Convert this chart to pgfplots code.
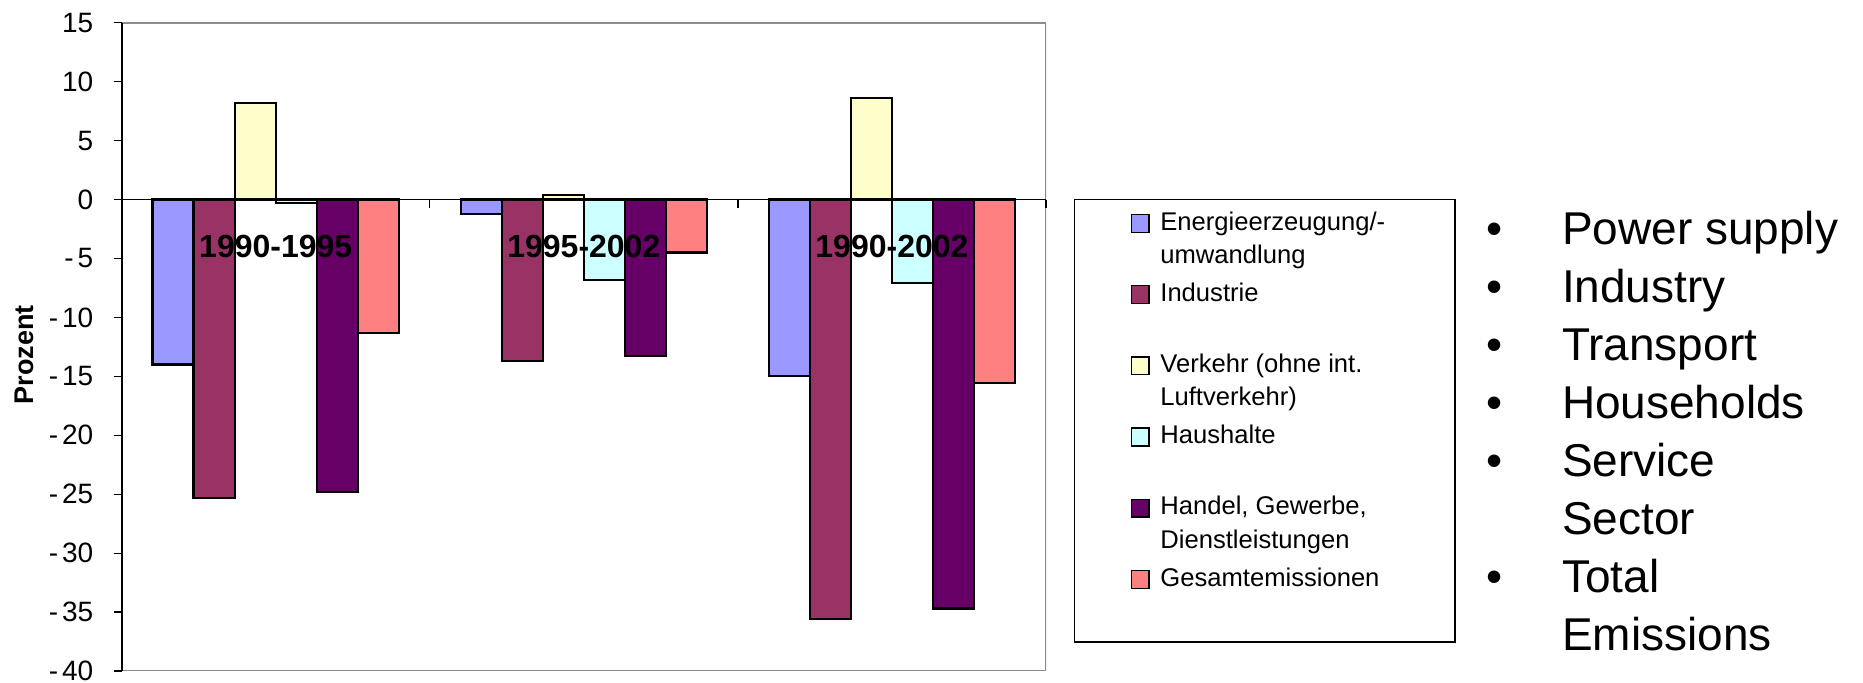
\documentclass[border=0pt]{standalone}
\usepackage{pgfplots}
\usepackage{pgfplotstable}
\pgfplotsset{compat=1.18}
\usepackage{fontspec}
\setmainfont{Liberation Sans}
\definecolor{cEnergie}{HTML}{9999FF}
\definecolor{cIndustrie}{HTML}{993366}
\definecolor{cVerkehr}{HTML}{FFFFCC}
\definecolor{cHaushalte}{HTML}{CCFFFF}
\definecolor{cHandel}{HTML}{660066}
\definecolor{cGesamt}{HTML}{FF8080}
\definecolor{framegray}{HTML}{8C8C8C}

\pgfplotstableread{
x    Energie Industrie Verkehr Haushalte Handel Gesamt
0.5  -14.0   -25.3     8.2     -0.3      -24.8  -11.3
1.5  -1.2    -13.7     0.4     -6.8      -13.3  -4.5
2.5  -15.0   -35.6     8.6     -7.1      -34.7  -15.6
}\datatable

\newcommand{\legtext}[2]{\parbox[t]{150pt}{\fontsize{12.8}{16.7}\selectfont\strut #1\\\strut #2}}

\begin{document}
\begin{tikzpicture}
\path[use as bounding box] (0,0) rectangle (931.5pt,-341.5pt);
\begin{axis}[
  at={(60.85pt,-11.35pt)}, anchor=north west,
  scale only axis, width=462.15pt, height=324.15pt,
  xmin=0, xmax=3, ymin=-40, ymax=15,
  axis on top,
  axis x line=middle, axis y line=left,
  x axis line style={-, black, line width=0.5pt},
  y axis line style={-, black, line width=0.9pt},
  hide obscured x ticks=false, hide obscured y ticks=false,
  tick align=outside, major tick length=4pt,
  tick style={black, line width=0.6pt},
  xtick={1,2,3}, xticklabels={,,},
  extra x ticks={0.5,1.5,2.5},
  extra x tick labels={1990-1995,1995-2002,1990-2002},
  extra x tick style={major tick length=0pt,
    tick label style={font=\fontsize{16}{18}\selectfont\bfseries, anchor=north, inner sep=0pt, yshift=-17.8pt}},
  ytick={-40,-35,-30,-25,-20,-15,-10,-5,0,5,10,15},
  yticklabels={-\hspace{2pt}40,-\hspace{2pt}35,-\hspace{2pt}30,-\hspace{2pt}25,-\hspace{2pt}20,-\hspace{2pt}15,-\hspace{2pt}10,-\hspace{2pt}5,0,5,10,15},
  yticklabel style={font=\fontsize{14}{16}\selectfont, anchor=east, inner sep=0pt, xshift=-10pt},
  ybar, bar width=0.1333,
  legend cell align=left,
  legend style={draw=none, fill=none, inner sep=0pt, outer sep=0pt,
    at={(axis description cs:1.0915,0.7163)}, anchor=north west,
    cells={anchor=base west}, nodes={inner sep=0pt, text depth=},
    row sep=2.2pt, column sep=5.35pt},
  legend image code/.code={\draw[#1, line width=0.7pt] (0pt,-1.1pt) rectangle (8.85pt,7.75pt);},
]
\addplot[fill=cEnergie, draw=black, line width=1.1pt, bar shift=-0.33333] table[x=x, y=Energie] {\datatable};
\addlegendentry{\legtext{Energieerzeugung/-}{umwandlung}}
\addplot[fill=cIndustrie, draw=black, line width=1.1pt, bar shift=-0.2] table[x=x, y=Industrie] {\datatable};
\addlegendentry{\legtext{Industrie}{}}
\addplot[fill=cVerkehr, draw=black, line width=1.1pt, bar shift=-0.066667] table[x=x, y=Verkehr] {\datatable};
\addlegendentry{\legtext{Verkehr (ohne int.}{Luftverkehr)}}
\addplot[fill=cHaushalte, draw=black, line width=1.1pt, bar shift=0.066667] table[x=x, y=Haushalte] {\datatable};
\addlegendentry{\legtext{Haushalte}{}}
\addplot[fill=cHandel, draw=black, line width=1.1pt, bar shift=0.2] table[x=x, y=Handel] {\datatable};
\addlegendentry{\legtext{Handel, Gewerbe,}{Dienstleistungen}}
\addplot[fill=cGesamt, draw=black, line width=1.1pt, bar shift=0.33333] table[x=x, y=Gesamt] {\datatable};
\addlegendentry{\legtext{Gesamtemissionen}{}}
\draw[framegray, line width=1.3pt] (rel axis cs:0,1) -- (rel axis cs:1,1) -- (rel axis cs:1,0) -- (rel axis cs:0,0);
\end{axis}
\node[rotate=90, font=\fontsize{13.5}{16}\selectfont\bfseries] at (12pt,-177.5pt) {Prozent};
\draw[black, line width=0.6pt] (537.2pt,-99.6pt) rectangle (727.5pt,-321pt);
\foreach \t/\b [count=\i from 0] in {Power supply/1,Industry/1,Transport/1,Households/1,Service/1,Sector/0,Total/1,Emissions/0}{
  \node[anchor=base west, inner sep=0pt, font=\fontsize{23}{27}\selectfont] at (780.8pt,{-122.5pt-\i*28.98pt}) {\t};
  \ifnum\b=1
  \node[anchor=base, inner sep=0pt, font=\fontsize{23}{27}\selectfont] at (747.5pt,{-122.5pt-\i*28.98pt}) {•};
  \fi
}
\end{tikzpicture}
\end{document}
